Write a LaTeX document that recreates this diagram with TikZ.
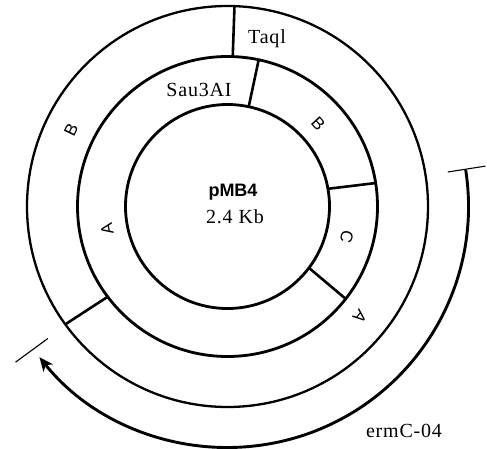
\documentclass[tikz,border=0pt]{standalone}
\usepackage{fontspec}
\setmainfont{Liberation Serif}
\setsansfont{Liberation Sans}
\setmonofont{Liberation Mono}
\usetikzlibrary{arrows.meta,calc}
\begin{document}
\begin{tikzpicture}[x=1pt,y=1pt,
  ring/.style={circle,draw,outer sep=0pt,inner sep=0pt},
  seg/.style={line width=2.6pt},
  lbl/.style={font=\rmfamily\fontsize{20}{22}\selectfont\addfontfeature{LetterSpace=4},inner sep=0pt},
  ringlet/.style={font=\sffamily\fontsize{17}{19}\selectfont,inner sep=0pt},
  tickline/.style={line width=1.1pt},
]
\useasboundingbox (0,0) rectangle (487,448);
\coordinate (c) at (227.5,241.5);
\node[ring,line width=2.8pt,minimum size=204pt] (inner) at (c) {};
\node[ring,line width=2.8pt,minimum size=300pt] (mid) at (c) {};
\node[ring,line width=2.3pt,minimum size=401pt] (outer) at (c) {};

\draw[seg] (outer.88.7) -- (mid.88.7);
\draw[seg] (mid.78.8) -- (inner.78.6);
\draw[seg] (inner.10.8) -- (mid.9.4);
\draw[seg] (inner.-37.7) -- (mid.-38.6);
\draw[seg] (mid.217.2) -- (outer.216.4);

\coordinate (arcstart) at ($(c)+(8.7:241)$);
\draw[line width=2.9pt,-{Stealth[length=14pt,width=12pt,inset=4pt]}] (arcstart) arc[start angle=8.7,end angle=-141.3,radius=241];

\coordinate (t1a) at ($(c)+(8.9:223)$);
\coordinate (t1b) at ($(c)+(8.9:261)$);
\draw[tickline] (t1a) -- (t1b);
\coordinate (t2a) at ($(c)+(216.3:223)$);
\coordinate (t2b) at ($(c)+(216.3:263)$);
\draw[tickline] (t2a) -- (t2b);

\node[lbl] (taq) at (267,409) {Taql};
\node[lbl] (sau) at (199,358) {Sau3AI};
\node[font=\sffamily\bfseries\fontsize{18}{20}\selectfont,inner sep=0pt] (name) at (233,256) {pMB4};
\node[lbl] (size) at (235,231) {2.4\hspace{6pt}Kb};
\node[lbl] (ver) at (404,17) {ermC-04};

\node[ringlet,rotate=64] (ob) at ($(c)+(154:174)$) {B};
\node[ringlet,rotate=-47.6] (mb) at ($(c)+(42.4:123)$) {B};
\node[ringlet,rotate=-104.3] (mc) at ($(c)+(-14.3:123)$) {C};
\node[ringlet,rotate=-129.8] (oa) at ($(c)+(-39.8:172.5)$) {A};
\node[ringlet,rotate=100.6] (ma) at ($(c)+(190.6:122.6)$) {A};
\end{tikzpicture}
\end{document}
